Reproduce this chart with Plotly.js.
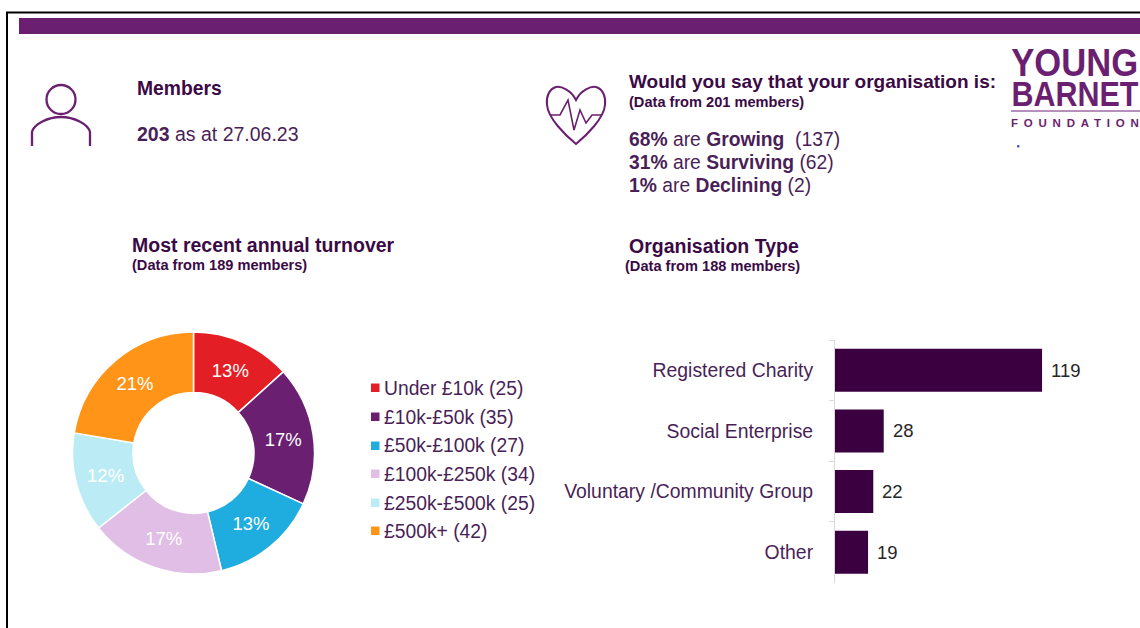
<!DOCTYPE html>
<html>
<head>
<meta charset="utf-8">
<script src="https://cdn.plot.ly/plotly-3.0.1.min.js"></script>
<style>
html,body{margin:0;padding:0;background:#fff;}
#chart{width:1140px;height:628px;}
</style>
</head>
<body>
<div id="chart"></div>
<script>
const turnoverBands = ['Under £10k','£10k-£50k','£50k-£100k','£100k-£250k','£250k-£500k','£500k+'];
const turnoverCounts = [25,35,27,34,25,42];
const turnoverLabels = ['13%','17%','13%','17%','12%','21%'];
const turnoverColors = ['#E31E24','#6A1F70','#1FADE0','#E0BEE6','#BBECF6','#FF9419'];
const orgTypes = ['Registered Charity','Social Enterprise','Voluntary /Community Group','Other'];
const orgCounts = [119,28,22,19];
const healthLines = ['<b>68%</b> are <b>Growing</b>\u00a0 (137)','<b>31%</b> are <b>Surviving</b> (62)','<b>1%</b> are <b>Declining</b> (2)'];

const W = 1140, H = 628;
const FONT = '"Liberation Sans", Arial, sans-serif';
const DARK = '#3B0A45', MID = '#4A1F57', PURPLE = '#6A1F70';
const px = x => x / W, py = y => 1 - y / H;
const P = (x, y) => px(x) + ',' + py(y);

function note(x, y, text, size, color, anchor) {
  return {xref:'paper', yref:'paper', x:px(x), y:py(y), text:text, showarrow:false,
    xanchor:anchor || 'left', yanchor:'middle', borderpad:0, borderwidth:0,
    font:{family:FONT, size:size, color:color || DARK}};
}

const legendRows = [388,417,446,474,503,531];
const annotations = [
  note(137, 88.5, '<b>Members</b>', 19.3),
  note(137, 133.5, '<b>203</b> as at 27.06.23', 19.5, MID),
  note(629, 82, '<b>Would you say that your organisation is:</b>', 19),
  note(629, 102, '<b>(Data from 201 members)</b>', 14.6),
  note(629, 139, healthLines[0], 19.3, MID),
  note(629, 162, healthLines[1], 19.3, MID),
  note(629, 185, healthLines[2], 19.3, MID),
  note(132, 245, '<b>Most recent annual turnover</b>', 19.5),
  note(132, 264.5, '<b>(Data from 189 members)</b>', 14.6),
  note(629, 246, '<b>Organisation Type</b>', 19.5),
  note(625, 265.5, '<b>(Data from 188 members)</b>', 14.6),
  note(1074.5, 63, '<b>YOUNG</b>', 38, PURPLE, 'center'),
  note(1074.5, 93, '<b>BARNET</b>', 35, PURPLE, 'center'),
  note(1075, 123, '<b>FOUNDATION</b>', 11.5, PURPLE, 'center')
];
const logoSqueeze = {11:127, 12:127};
const logoSpread = {13:128};
turnoverBands.forEach((b, i) => {
  annotations.push(note(384, legendRows[i], b + ' (' + turnoverCounts[i] + ')', 19.3, MID));
});
orgTypes.forEach((t, i) => {
  annotations.push({xref:'x', yref:'y', x:orgCounts[i], y:t, text:String(orgCounts[i]), showarrow:false,
    xanchor:'left', yanchor:'middle', xshift:9, borderpad:0, borderwidth:0,
    font:{family:FONT, size:18.5, color:'#262626'}});
});

const line = {color:PURPLE, width:2.3};
const shapes = [
  {type:'rect', xref:'paper', yref:'paper', x0:px(19), x1:1, y0:py(34), y1:py(18), fillcolor:PURPLE, line:{width:0}},
  {type:'path', xref:'paper', yref:'paper', line:{color:'#000', width:2},
    path:'M'+P(7,628)+' L'+P(7,12.5)+' L'+P(1140,12.5)},
  {type:'circle', xref:'paper', yref:'paper', x0:px(46.5), x1:px(75.5), y0:py(114), y1:py(85), line:line},
  {type:'path', xref:'paper', yref:'paper', line:line,
    path:'M'+P(32,146)+' L'+P(32,132)+' C'+P(34,124)+' '+P(48,117)+' '+P(61,117)+' C'+P(74,117)+' '+P(88,124)+' '+P(90,132)+' L'+P(90,146)},
  {type:'path', xref:'paper', yref:'paper', line:{color:PURPLE, width:2},
    path:'M'+P(576,100)+' C'+P(571,90)+' '+P(561,86)+' '+P(556,87)+' C'+P(549,89)+' '+P(546,97)+' '+P(547,105)+' C'+P(548,118)+' '+P(565,135)+' '+P(576,144)+' C'+P(587,135)+' '+P(604,118)+' '+P(605,105)+' C'+P(606,97)+' '+P(603,89)+' '+P(596,87)+' C'+P(591,86)+' '+P(581,90)+' '+P(576,100)+' Z'},
  {type:'path', xref:'paper', yref:'paper', line:{color:PURPLE, width:1.6},
    path:'M'+P(551,115)+' L'+P(560,115)+' L'+P(568,100)+' L'+P(574,130)+' L'+P(580,110)+' L'+P(586,123)+' L'+P(592,115)+' L'+P(602,115)},
  {type:'line', xref:'paper', yref:'paper', x0:px(1011), x1:1, y0:py(111), y1:py(111), line:{color:'#9C6BA5', width:1.5}},
  {type:'circle', xref:'paper', yref:'paper', x0:px(1017), x1:px(1019.5), y0:py(147.5), y1:py(145), fillcolor:'#2A3CE0', line:{width:0}}
];
legendRows.forEach((y, i) => {
  shapes.push({type:'rect', xref:'paper', yref:'paper', x0:px(371), x1:px(379.5), y0:py(y+4), y1:py(y-4.5),
    fillcolor:turnoverColors[i], line:{width:0}});
});

const traces = [
  {type:'pie', labels:turnoverBands, values:turnoverCounts, text:turnoverLabels, textinfo:'text',
   textposition:'inside', insidetextorientation:'horizontal', sort:false, direction:'clockwise', rotation:0,
   hole:0.5, marker:{colors:turnoverColors, line:{color:'#fff', width:1.5}},
   textfont:{family:FONT, size:18.5, color:'#fff'},
   domain:{x:[px(72.5),px(314.5)], y:[py(574),py(332)]}, showlegend:false, hoverinfo:'label+value'},
  {type:'bar', orientation:'h', y:orgTypes, x:orgCounts, textposition:'none',
   marker:{color:'#3B0040'}, xaxis:'x', yaxis:'y', showlegend:false}
];

const layout = {
  width:W, height:H, margin:{l:0,r:0,t:0,b:0}, paper_bgcolor:'#fff', plot_bgcolor:'#fff',
  font:{family:FONT}, showlegend:false, bargap:0.29,
  xaxis:{domain:[px(835),px(1100)], range:[0,152.3], visible:false, fixedrange:true},
  yaxis:{domain:[py(582.5),py(340)], type:'category', categoryorder:'array', categoryarray:orgTypes,
    autorange:'reversed', tickson:'boundaries', ticks:'outside', ticklen:5, tickcolor:'#D9D9D9', tickwidth:1,
    showline:true, linecolor:'#D9D9D9', linewidth:1, showgrid:false, zeroline:false,
    tickfont:{family:FONT, size:19.4, color:MID}, ticklabelstandoff:17, fixedrange:true},
  annotations:annotations, shapes:shapes
};
Plotly.newPlot('chart', traces, layout, {displayModeBar:false, staticPlot:true}).then(() => {
  const textOf = i => document.querySelector('.annotation[data-index="' + i + '"] text');
  Object.keys(logoSqueeze).forEach(i => {
    const t = textOf(i);
    if (!t) return;
    const box = t.getBBox();
    const cx = box.x + box.width / 2;
    const s = logoSqueeze[i] / box.width;
    t.setAttribute('transform', 'translate(' + cx + ',0) scale(' + s + ',1) translate(' + (-cx) + ',0)');
  });
  Object.keys(logoSpread).forEach(i => {
    const t = textOf(i);
    if (!t) return;
    t.setAttribute('textLength', logoSpread[i]);
    t.setAttribute('lengthAdjust', 'spacing');
  });
});
</script>
</body>
</html>
